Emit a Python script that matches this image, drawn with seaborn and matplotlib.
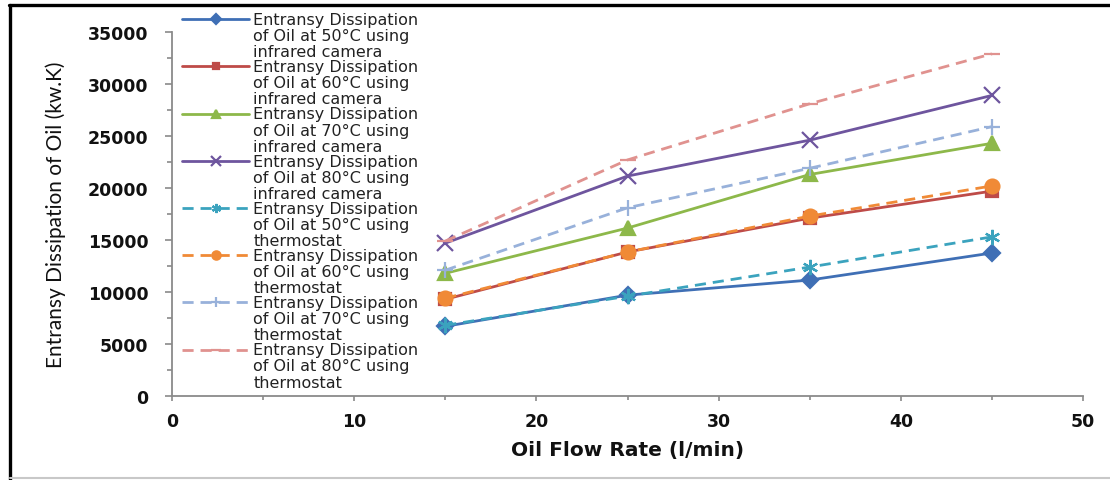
import numpy as np
import pandas as pd
import matplotlib
matplotlib.use("Agg")
import matplotlib.pyplot as plt
import seaborn as sns
from matplotlib.lines import Line2D
from matplotlib.legend_handler import HandlerLine2D
from matplotlib.ticker import MultipleLocator

# ---- data ----
flow_rate = [15, 25, 35, 45]
ir_50 = [6700, 9700, 11150, 13750]
ir_60 = [9300, 13850, 17100, 19700]
ir_70 = [11800, 16150, 21300, 24300]
ir_80 = [14700, 21150, 24600, 28900]
th_50 = [6800, 9600, 12400, 15300]
th_60 = [9400, 13850, 17300, 20200]
th_70 = [12100, 18100, 21900, 25900]
th_80 = [14900, 22700, 28100, 32900]

labels = [
    "Entransy Dissipation\nof Oil at 50°C using\ninfrared camera",
    "Entransy Dissipation\nof Oil at 60°C using\ninfrared camera",
    "Entransy Dissipation\nof Oil at 70°C using\ninfrared camera",
    "Entransy Dissipation\nof Oil at 80°C using\ninfrared camera",
    "Entransy Dissipation\nof Oil at 50°C using\nthermostat",
    "Entransy Dissipation\nof Oil at 60°C using\nthermostat",
    "Entransy Dissipation\nof Oil at 70°C using\nthermostat",
    "Entransy Dissipation\nof Oil at 80°C using\nthermostat",
]
series = [ir_50, ir_60, ir_70, ir_80, th_50, th_60, th_70, th_80]

colors = ["#3F6FB5", "#BE4B48", "#8DB84A", "#6E559E",
          "#3BA3BE", "#F08A36", "#98B1DA", "#E0928F"]
markers = ["D", "s", "^", "x", (6, 2, 0), "o", "+", "_"]
msizes = [8, 8, 10, 11, 11, 10, 11, 11]
styles = ["-", "-", "-", "-", "--", "--", "--", "--"]

sns.set_theme(style="white")
plt.rcParams["font.family"] = ["DejaVu Sans"]

fig = plt.figure(figsize=(11.1, 4.81), dpi=100)
ax = fig.add_axes([0.155, 0.1746, 0.8207, 0.7568])

for vals, lab, c, m, ms, ls in zip(series, labels, colors, markers, msizes, styles):
    sns.lineplot(x=flow_rate, y=vals, ax=ax, color=c, marker=m, markersize=ms,
                 linestyle=ls, linewidth=2.0, label=lab,
                 markeredgecolor=c, markerfacecolor=c, markeredgewidth=1.6)

for l in ax.get_lines():
    if l.get_linestyle() == "--":
        l.set_dashes((4, 2.5))

ax.set_xlim(0, 50)
ax.set_ylim(0, 35000)
ax.xaxis.set_major_locator(MultipleLocator(10))
ax.xaxis.set_minor_locator(MultipleLocator(5))
ax.yaxis.set_major_locator(MultipleLocator(5000))
ax.yaxis.set_minor_locator(MultipleLocator(2500))

for s in ["top", "right"]:
    ax.spines[s].set_visible(False)
for s in ["left", "bottom"]:
    ax.spines[s].set_color("#8A8A8A")
    ax.spines[s].set_linewidth(1.3)

ax.tick_params(axis="both", which="both", direction="out", color="#8A8A8A", width=1.2)
ax.tick_params(axis="y", which="major", length=5, pad=12, left=True)
ax.tick_params(axis="y", which="minor", length=3.5, left=True)
ax.tick_params(axis="x", which="major", length=3.5, pad=8, bottom=True)
ax.tick_params(axis="x", which="minor", length=3, bottom=True)
for t in ax.get_xticklabels() + ax.get_yticklabels():
    t.set_fontweight("bold")
    t.set_fontsize(12.5)
    t.set_color("#111111")

ax.set_xlabel("Oil Flow Rate (l/min)", fontsize=14.5, fontweight="bold", color="#111111", labelpad=7)
ax.set_ylabel("Entransy Dissipation of Oil (kw.K)", fontsize=15, color="#111111",
              labelpad=16, family=["Lato", "DejaVu Sans"])


class TopHandler(HandlerLine2D):
    def __init__(self, shift, **kw):
        super().__init__(**kw)
        self.shift = shift

    def create_artists(self, legend, orig_handle, xdescent, ydescent, width,
                       height, fontsize, trans):
        arts = super().create_artists(legend, orig_handle, xdescent, ydescent,
                                      width, height, fontsize, trans)
        for a in arts:
            y = np.asarray(a.get_ydata(), float)
            a.set_ydata(y + self.shift)
        return arts


handles, labs = ax.get_legend_handles_labels()
leg = ax.legend(handles, labs, loc="upper left", bbox_to_anchor=(0.154, 0.996),
                bbox_transform=fig.transFigure, frameon=False, fontsize=11.5,
                handlelength=4.2, handletextpad=0.25, labelspacing=0.0,
                borderpad=0.2, markerscale=0.6,
                handler_map={Line2D: TopHandler(shift=12.1)})
for t in leg.get_texts():
    t.set_linespacing(1.09)
    t.set_color("#222222")

# figure frame
fig.add_artist(Line2D([0.008, 1.0], [0.9865, 0.9865], transform=fig.transFigure,
                      color="black", linewidth=2.4))
fig.add_artist(Line2D([0.0086, 0.0086], [0.0, 0.9865], transform=fig.transFigure,
                      color="black", linewidth=2.4))
fig.add_artist(Line2D([0.0086, 1.0], [0.004, 0.004], transform=fig.transFigure,
                      color="#C8C8C8", linewidth=1.5))

fig.savefig("out.png", dpi=100, facecolor="white")
